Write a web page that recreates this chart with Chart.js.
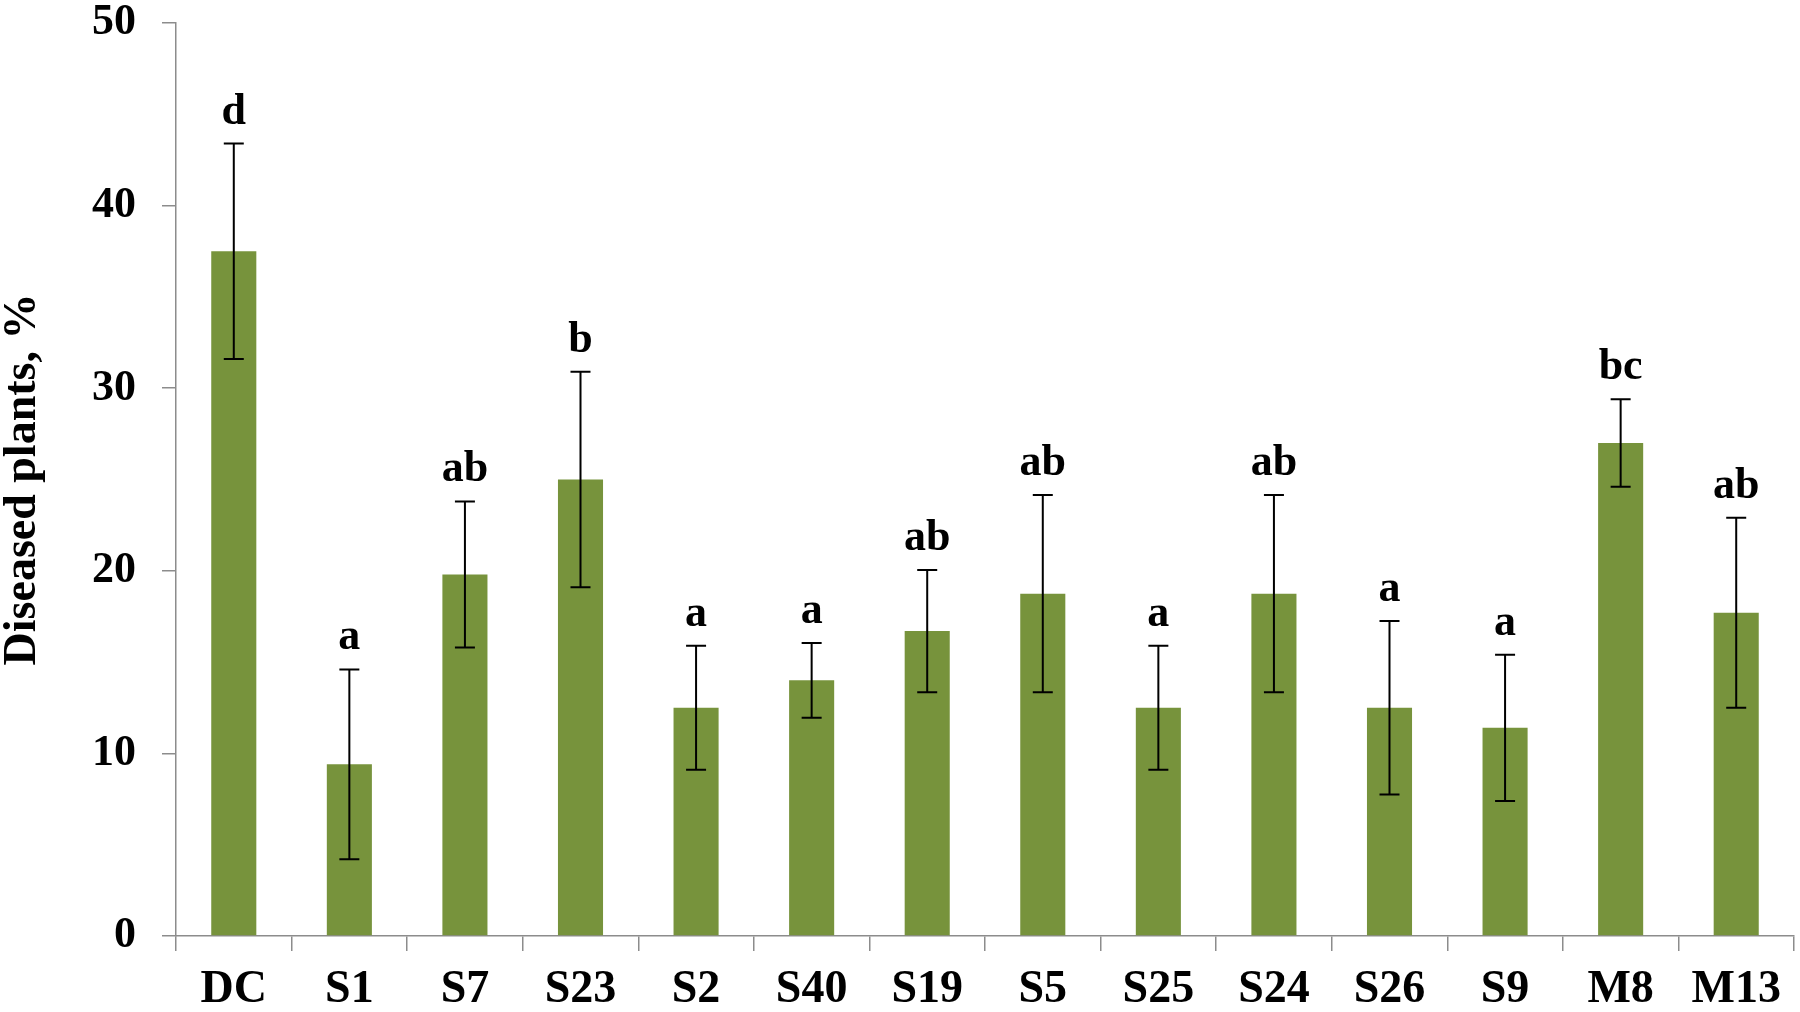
<!DOCTYPE html>
<html>
<head>
<meta charset="utf-8">
<script src="https://cdn.jsdelivr.net/npm/chart.js@4.4.1/dist/chart.umd.min.js"></script>
<style>
  html, body { margin: 0; padding: 0; background: #fff; }
  #wrap { width: 1800px; height: 1012px; }
</style>
</head>
<body>
<div id="wrap"><canvas id="diseaseChart"></canvas></div>
<script>
// Data
const treatments = ["DC", "S1", "S7", "S23", "S2", "S40", "S19", "S5", "S25", "S24", "S26", "S9", "M8", "M13"];
const diseasedPct = [37.5, 9.4, 19.8, 25.0, 12.5, 14.0, 16.7, 18.75, 12.5, 18.75, 12.5, 11.4, 27.0, 17.7];
const errors = [5.9, 5.2, 4.0, 5.9, 3.4, 2.05, 3.35, 5.4, 3.4, 5.4, 4.75, 4.0, 2.4, 5.2];
const groupLetters = ["d", "a", "ab", "b", "a", "a", "ab", "ab", "a", "ab", "a", "a", "bc", "ab"];
const yTicks = [0, 10, 20, 30, 40, 50];

const serif = "'Liberation Serif', 'Times New Roman', serif";
const axisGrey = "#8c8c8c";

// error bars + significance letters
const errorBarPlugin = {
  id: "errorBars",
  afterDatasetsDraw(chart) {
    const ctx = chart.ctx;
    const meta = chart.getDatasetMeta(0);
    const y = chart.scales.y;
    ctx.save();
    ctx.strokeStyle = "#000";
    ctx.lineWidth = 2;
    ctx.fillStyle = "#000";
    ctx.font = "bold 44px " + serif;
    ctx.textAlign = "center";
    ctx.textBaseline = "alphabetic";
    meta.data.forEach((bar, i) => {
      const x = bar.x;
      const hi = y.getPixelForValue(diseasedPct[i] + errors[i]);
      const lo = y.getPixelForValue(diseasedPct[i] - errors[i]);
      ctx.beginPath();
      ctx.moveTo(x, hi); ctx.lineTo(x, lo);
      ctx.moveTo(x - 10, hi); ctx.lineTo(x + 10, hi);
      ctx.moveTo(x - 10, lo); ctx.lineTo(x + 10, lo);
      ctx.stroke();
      ctx.fillText(groupLetters[i], x, hi - 20);
    });
    ctx.restore();
  }
};

const config = {
  type: "bar",
  data: {
    labels: treatments,
    datasets: [{
      data: diseasedPct,
      backgroundColor: "#77933C",
      borderWidth: 0,
      barPercentage: 0.39,
      categoryPercentage: 1.0
    }]
  },
  options: {
    responsive: true,
    maintainAspectRatio: false,
    animation: false,
    layout: { padding: { top: 23, right: 6, left: 0, bottom: 0 } },
    plugins: {
      legend: { display: false },
      tooltip: { enabled: false }
    },
    scales: {
      x: {
        grid: { drawOnChartArea: false, offset: true, color: axisGrey, tickLength: 15, lineWidth: 1.5 },
        border: { color: axisGrey, width: 1.5 },
        ticks: {
          color: "#000",
          padding: 16,
          maxRotation: 0,
          font: { family: serif, size: 46, weight: "bold", lineHeight: 1 }
        },
        afterFit(scale) { scale.height = 76; }
      },
      y: {
        min: 0,
        max: 50,
        afterBuildTicks(scale) { scale.ticks = yTicks.map(v => ({ value: v })); },
        grid: { drawOnChartArea: false, color: axisGrey, tickLength: 14, lineWidth: 1.5 },
        border: { color: axisGrey, width: 1.5 },
        ticks: {
          color: "#000",
          padding: 26,
          font: { family: serif, size: 44, weight: "bold", lineHeight: 1 }
        },
        title: {
          display: true,
          text: "Diseased plants, %",
          color: "#000",
          padding: 0,
          font: { family: serif, size: 46, weight: "bold", lineHeight: 1 }
        },
        afterFit(scale) {
          scale.width = 176;
          scale.paddingTop = 0;
          scale.paddingBottom = 0;
        }
      }
    }
  },
  plugins: [errorBarPlugin]
};

const ctx = document.getElementById("diseaseChart").getContext("2d");
new Chart(ctx, config);
</script>
</body>
</html>
